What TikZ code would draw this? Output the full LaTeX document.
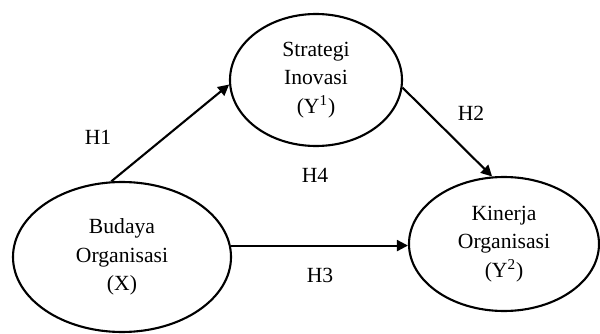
\documentclass[tikz,border=0pt]{standalone}
\usepackage{fontspec}
\setmainfont{Liberation Serif}
\usepackage{tikz}
\usetikzlibrary{shapes.geometric, arrows.meta, positioning, calc}
\tikzstyle{construct} = [ellipse, draw, line width=1.2pt, inner sep=0pt, align=center, font=\fontsize{12.3}{16.3}\selectfont]
\tikzstyle{arrow} = [line width=1.2pt, -{Triangle[length=0.22cm, width=0.22cm]}]
\tikzstyle{hyp} = [font=\fontsize{12.3}{16.3}\selectfont]

\begin{document}
\begin{tikzpicture}
  \useasboundingbox (0,0) rectangle (12,6.66);
  \node[construct, minimum width=3.44cm, minimum height=2.64cm] (strategi) at (6.32,5.06) {Strategi\\Inovasi\\(Y\textsuperscript{1})};
  \node[construct, minimum width=4.36cm, minimum height=3.0cm] (budaya) at (2.44,1.52) {Budaya\\Organisasi\\(X)};
  \node[construct, minimum width=3.8cm, minimum height=2.68cm] (kinerja) at (10.08,1.78) {Kinerja\\Organisasi\\(Y\textsuperscript{2})};
  \draw[arrow] (budaya.98) -- (strategi.183);
  \draw[arrow] (strategi.355) -- (kinerja.100);
  \draw[arrow] (budaya.6) -- (budaya.6 -| kinerja.west);
  \node[hyp] (h1) at (1.96,3.92) {H1};
  \node[hyp] (h2) at (9.42,4.40) {H2};
  \node[hyp] (h4) at (6.30,3.16) {H4};
  \node[hyp] (h3) at (6.40,1.16) {H3};
\end{tikzpicture}
\end{document}
